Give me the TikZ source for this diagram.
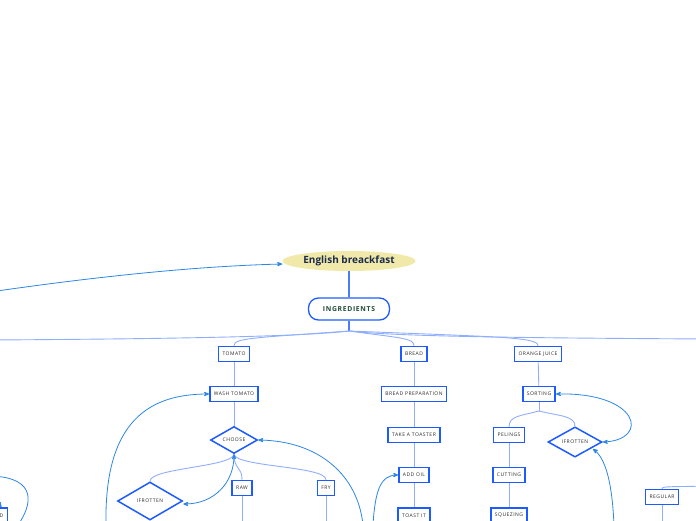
\documentclass[tikz,border=0pt]{standalone}
\usepackage{fontspec}
\setmainfont{Open Sans}
\newfontfamily\boxfont[LetterSpace=10]{Open Sans}
\usetikzlibrary{arrows,shapes.geometric}
\definecolor{boxblue}{HTML}{1E5BFF}
\definecolor{branchblue}{HTML}{8FAEFF}
\definecolor{relblue}{HTML}{2B86E6}
\definecolor{titlefill}{HTML}{F1E9A9}
\definecolor{titletext}{HTML}{1B2A4E}
\definecolor{ingtext}{HTML}{1D4A35}
\definecolor{labeltext}{HTML}{2A2A2A}

\begin{document}
\begin{tikzpicture}[x=1pt,y=-1pt,>=stealth',
    box/.style={draw=boxblue,line width=1.5pt,fill=white,inner xsep=4pt,
      inner ysep=0pt,minimum height=15pt,text=labeltext,
      font=\boxfont\fontsize{5}{6}\selectfont},
    dia/.style={diamond,draw=boxblue,line width=1.5pt,fill=white,inner sep=0pt,
      text=labeltext,font=\boxfont\fontsize{5}{6}\selectfont},
    branch/.style={draw=branchblue,line width=0.9pt},
    rel/.style={draw=relblue,line width=0.8pt}]
\useasboundingbox (0,0) rectangle (696,520);
\clip (0,0) rectangle (696,520);

% main topic
\node[ellipse,fill=titlefill,minimum width=133pt,minimum height=20pt,inner sep=0pt,
  text=titletext,font=\bfseries\fontsize{10}{12}\selectfont] (eb) at (349,261) {English breackfast};
\node[draw=boxblue,line width=1.3pt,rounded corners=10pt,minimum width=81pt,minimum height=22pt,
  text=ingtext,font=\boxfont\bfseries\fontsize{6.8}{8}\selectfont] (ing) at (349,309) {INGREDIENTS};
\draw[draw=boxblue!80,line width=1.2pt] (eb.south) -- (ing.north);
\coordinate (ingf) at (349,331);
\draw[draw=boxblue!80,line width=1.2pt] (ing.south) -- (ingf);

% tomato
\node[box] (tom) at (234,354) {TOMATO};
\node[box] (wash) at (234,394) {WASH TOMATO};
\node[dia,minimum width=47pt,minimum height=27pt] (cho) at (234,440) {CHOOSE};
\node[dia,minimum width=65pt,minimum height=38pt] (rotl) at (150,501) {IFROTTEN};
\node[box] (raw) at (242,488) {RAW};
\node[box] (fry) at (326,488) {FRY};

% bread
\node[box] (bre) at (414,354) {BREAD};
\node[box] (prep) at (414,394) {BREAD PREPARATION};
\node[box] (toaster) at (414,435) {TAKE A TOASTER};
\node[box] (oil) at (414,475) {ADD OIL};
\node[box] (toast) at (414,515.5) {TOAST IT};

% orange juice
\node[box] (oj) at (538,354) {ORANGE JUICE};
\node[box] (sort) at (539,394) {SORTING};
\node[box] (pel) at (509,435) {PELINGS};
\node[dia,minimum width=54pt,minimum height=30pt] (rotr) at (575,442) {IFROTTEN};
\node[box] (cut) at (509,475) {CUTTING};
\node[box] (sq) at (509,515.5) {SQUEZING};

% edges of the page
\node[box] (reg) at (662,497) {REGULAR};
\node[box,anchor=east] (lbox) at (8,515.5) {D};

% branches
\coordinate (lft) at (-10,340);
\coordinate (rgt) at (706,339);
\draw[branch] (ingf) .. controls (300,337) and (150,339) .. (lft);
\draw[branch] (ingf) .. controls (400,337) and (550,338) .. (rgt);
\draw[branch] (ingf) .. controls (252,338) and (234,338) .. (tom.north);
\draw[branch] (ingf) .. controls (400,338) and (414,338) .. (bre.north);
\draw[branch] (ingf) .. controls (500,337) and (538,337) .. (oj.north);

\draw[branch] (tom) -- (wash);
\draw[branch] (wash) -- (cho);
\draw[branch] (cho.south) .. controls (232,467) and (150,468) .. (rotl.north);
\draw[branch] (cho.south) .. controls (234,470) and (242,466) .. (raw.north);
\draw[branch] (cho.south) .. controls (236,467) and (326,466) .. (fry.north);
\coordinate (rawend) at (242,525);
\coordinate (fryend) at (326,525);
\draw[branch] (raw) -- (rawend);
\draw[branch] (fry) -- (fryend);

\draw[branch] (bre) -- (prep);
\draw[branch] (prep) -- (toaster);
\draw[branch] (toaster) -- (oil);
\draw[branch] (oil) -- (toast);

\draw[branch] (oj) -- (sort);
\coordinate (sortf) at (539,411);
\draw[branch] (sort.south) -- (sortf);
\draw[branch] (sortf) .. controls (520,416) and (509,416) .. (pel.north);
\draw[branch] (sortf) .. controls (560,416) and (575,416) .. (rotr.north);
\draw[branch] (pel) -- (cut);
\draw[branch] (cut) -- (sq);

\coordinate (regin) at (706,486);
\coordinate (regend) at (662,525);
\draw[branch] (regin) .. controls (672,487) and (662,486) .. (reg.north);
\draw[branch] (reg) -- (regend);

% relations
\coordinate (r1) at (-10,292);
\draw[rel,->] (r1) .. controls (100,276) and (200,266) .. ([yshift=-3pt]eb.west);
\coordinate (r2) at (106,525);
\draw[rel,->] (r2) .. controls (104,420) and (150,394) .. (wash.west);
\coordinate (r3) at (363,525);
\draw[rel,->] (r3) .. controls (358,476) and (320,441) .. (cho.east);
\draw[rel,<->] ([yshift=-3pt]rotl.east) .. controls (215,504) and (234,482) .. (cho.south);
\coordinate (r4) at (373,525);
\draw[rel,->] (r4) .. controls (375,492) and (380,475) .. (oil.west);
\draw[rel,<->] (rotr.east) .. controls (650,440) and (640,392) .. (sort.east);
\coordinate (r5) at (614,525);
\draw[rel,->] (r5) .. controls (612,480) and (605,458) .. ([xshift=4pt,yshift=1pt]rotr.south east);
\coordinate (r6) at (-8,476);
\coordinate (r7) at (18,525);
\draw[rel] (r6) .. controls (38,478) and (32,505) .. (r7);
\coordinate (r8) at (-8,498);
\draw[rel,->] (r8) .. controls (-2,502) and (0,505) .. (lbox.north);
\end{tikzpicture}
\end{document}
